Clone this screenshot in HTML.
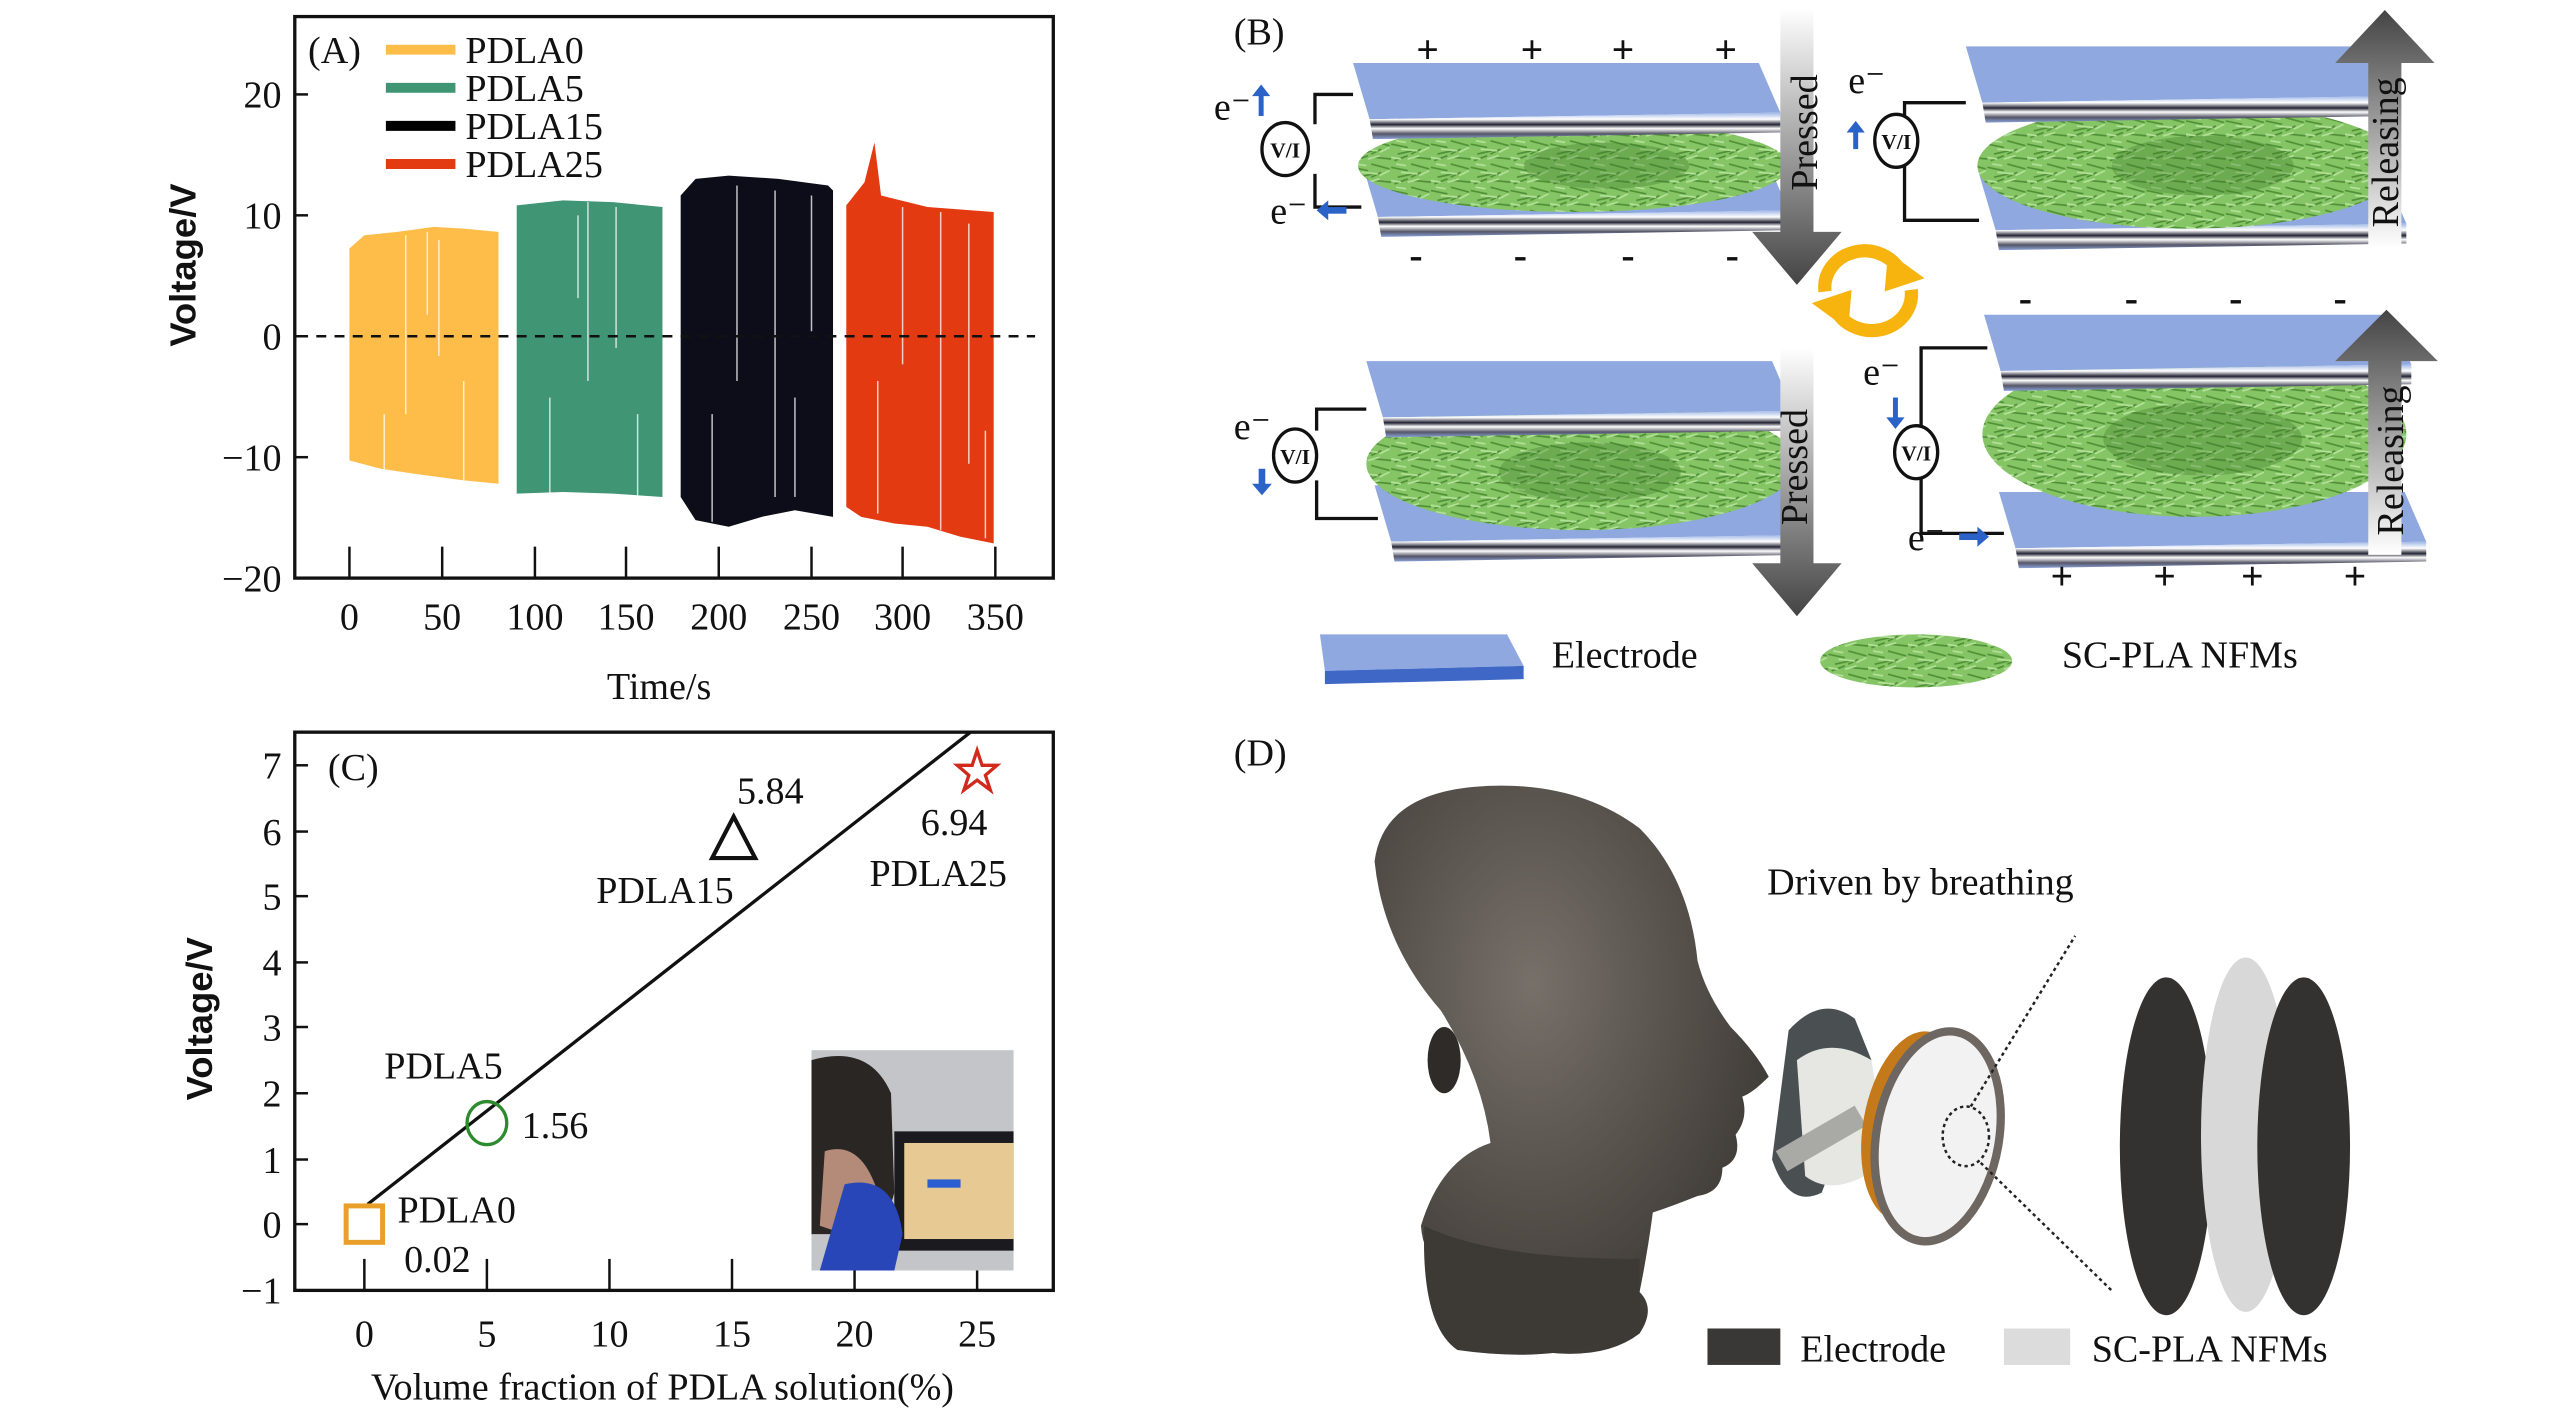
<!DOCTYPE html>
<html><head><meta charset="utf-8"><style>
html,body{margin:0;padding:0;background:#fff;width:2567px;height:1408px;overflow:hidden}
svg{display:block}
text{font-family:"Liberation Serif",serif;fill:#111}
.t{font-size:23px}
.b{font-family:"Liberation Sans",sans-serif;font-weight:bold}
</style></head><body>
<svg width="2567" height="1408" viewBox="0 0 1550 850" preserveAspectRatio="none" xmlns="http://www.w3.org/2000/svg">
<defs>
<linearGradient id="gd" x1="0" y1="0" x2="0" y2="1"><stop offset="0" stop-color="#fff"/><stop offset="1" stop-color="#444"/></linearGradient>
<linearGradient id="gu" x1="0" y1="1" x2="0" y2="0"><stop offset="0" stop-color="#fff"/><stop offset="1" stop-color="#444"/></linearGradient>
<linearGradient id="edge" x1="0" y1="0" x2="0" y2="1"><stop offset="0" stop-color="#9fb6e6"/><stop offset=".25" stop-color="#fff"/><stop offset=".45" stop-color="#223"/><stop offset=".6" stop-color="#fff"/><stop offset=".8" stop-color="#556"/><stop offset="1" stop-color="#8aa2d8"/></linearGradient>
<radialGradient id="head" cx=".4" cy=".35" r=".7"><stop offset="0" stop-color="#777069"/><stop offset="1" stop-color="#3a3632"/></radialGradient>
<pattern id="fp" width="24" height="14" patternUnits="userSpaceOnUse">
<rect width="24" height="14" fill="#86c566"/>
<path stroke="#4f8f35" stroke-width="1" fill="none" d="M0,3 l10,2 M12,1 l11,3 M4,9 l9,-2 M14,11 l10,1 M2,13 l8,-3 M18,6 l-6,3"/>
<path stroke="#b4e29a" stroke-width="1" fill="none" d="M6,6 l10,1 M17,8 l6,-3 M0,11 l6,1 M10,12 l7,-2 M3,1 l6,1"/>
</pattern>
<g id="plate"><polygon points="0,0 245,0 258,30 10,34" fill="#8fa9e0"/><polygon points="10,34 258,30 258,42 12,46" fill="url(#edge)"/></g>
</defs>

<!-- Panel A -->
<polygon points="211,150 220,142 240,140 262,137 280,138 301,140 301,292 280,290 250,286 230,283 211,278" fill="#fdbd48"/>
<polygon points="312,124 340,121 370,122 400,125 400,300 370,298 340,297 312,298" fill="#3f9574"/>
<polygon points="411,118 420,108 440,106 470,108 500,112 503,115 503,312 480,308 460,312 440,318 420,314 411,300" fill="#0d0d1a"/>
<polygon points="511,124 522,110 528,86 532,118 560,125 600,128 600,328 580,324 560,318 540,316 520,312 511,306" fill="#e33a12"/>
<g stroke="#fff" stroke-width="0.9" opacity="0.75">
<line x1="245" y1="142" x2="245" y2="250"/><line x1="258" y1="140" x2="258" y2="190"/><line x1="265" y1="145" x2="265" y2="215"/><line x1="280" y1="230" x2="280" y2="290"/><line x1="232" y1="250" x2="232" y2="285"/>
<line x1="355" y1="122" x2="355" y2="230"/><line x1="372" y1="125" x2="372" y2="210"/><line x1="332" y1="240" x2="332" y2="298"/><line x1="385" y1="250" x2="385" y2="300"/><line x1="349" y1="130" x2="349" y2="180"/>
<line x1="445" y1="112" x2="445" y2="230"/><line x1="468" y1="115" x2="468" y2="300"/><line x1="490" y1="118" x2="490" y2="200"/><line x1="430" y1="250" x2="430" y2="315"/><line x1="480" y1="240" x2="480" y2="300"/>
<line x1="545" y1="125" x2="545" y2="220"/><line x1="568" y1="128" x2="568" y2="320"/><line x1="530" y1="230" x2="530" y2="310"/><line x1="585" y1="135" x2="585" y2="280"/><line x1="595" y1="260" x2="595" y2="325"/>
</g>
<line x1="180" y1="203" x2="625" y2="203" stroke="#111" stroke-width="1.5" stroke-dasharray="6,5"/>
<rect x="178" y="10" width="458" height="339" fill="none" stroke="#111" stroke-width="2"/>
<g stroke="#111" stroke-width="1.5">
<line x1="178" y1="57" x2="186" y2="57"/><line x1="178" y1="130" x2="186" y2="130"/><line x1="178" y1="203" x2="186" y2="203"/><line x1="178" y1="276" x2="186" y2="276"/>
<line x1="211" y1="349" x2="211" y2="330"/><line x1="267" y1="349" x2="267" y2="330"/><line x1="323" y1="349" x2="323" y2="330"/><line x1="378" y1="349" x2="378" y2="330"/><line x1="434" y1="349" x2="434" y2="330"/><line x1="490" y1="349" x2="490" y2="330"/><line x1="545" y1="349" x2="545" y2="330"/><line x1="601" y1="349" x2="601" y2="330"/>
</g>
<g class="t" text-anchor="end"><text x="170" y="65">20</text><text x="170" y="138">10</text><text x="170" y="211">0</text><text x="170" y="284">−10</text><text x="170" y="357">−20</text></g>
<g class="t" text-anchor="middle"><text x="211" y="380">0</text><text x="267" y="380">50</text><text x="323" y="380">100</text><text x="378" y="380">150</text><text x="434" y="380">200</text><text x="490" y="380">250</text><text x="545" y="380">300</text><text x="601" y="380">350</text>
<text x="398" y="422">Time/s</text></g>
<text class="b" font-size="22" transform="translate(118,160) rotate(-90)" text-anchor="middle">Voltage/V</text>
<text class="t" x="186" y="38">(A)</text>
<g stroke-width="6"><line x1="233" y1="30" x2="275" y2="30" stroke="#fdbd48"/><line x1="233" y1="53" x2="275" y2="53" stroke="#3f9574"/><line x1="233" y1="76" x2="275" y2="76" stroke="#000"/><line x1="233" y1="99" x2="275" y2="99" stroke="#e33a12"/></g>
<g class="t"><text x="281" y="38">PDLA0</text><text x="281" y="61">PDLA5</text><text x="281" y="84">PDLA15</text><text x="281" y="107">PDLA25</text></g>

<!-- Panel C -->
<rect x="178" y="442" width="458" height="337" fill="none" stroke="#111" stroke-width="2"/>
<g stroke="#111" stroke-width="1.5">
<line x1="178" y1="462" x2="186" y2="462"/><line x1="178" y1="502" x2="186" y2="502"/><line x1="178" y1="541" x2="186" y2="541"/><line x1="178" y1="581" x2="186" y2="581"/><line x1="178" y1="620" x2="186" y2="620"/><line x1="178" y1="660" x2="186" y2="660"/><line x1="178" y1="700" x2="186" y2="700"/><line x1="178" y1="739" x2="186" y2="739"/>
<line x1="220" y1="779" x2="220" y2="760"/><line x1="294" y1="779" x2="294" y2="760"/><line x1="368" y1="779" x2="368" y2="760"/><line x1="442" y1="779" x2="442" y2="760"/><line x1="516" y1="779" x2="516" y2="760"/><line x1="590" y1="779" x2="590" y2="760"/>
</g>
<g class="t" text-anchor="end"><text x="170" y="470">7</text><text x="170" y="510">6</text><text x="170" y="549">5</text><text x="170" y="589">4</text><text x="170" y="628">3</text><text x="170" y="668">2</text><text x="170" y="708">1</text><text x="170" y="747">0</text><text x="170" y="787">−1</text></g>
<g class="t" text-anchor="middle"><text x="220" y="813">0</text><text x="294" y="813">5</text><text x="368" y="813">10</text><text x="442" y="813">15</text><text x="516" y="813">20</text><text x="590" y="813">25</text>
<text x="400" y="845">Volume fraction of PDLA solution(%)</text></g>
<text class="b" font-size="22" transform="translate(128,615) rotate(-90)" text-anchor="middle">Voltage/V</text>
<text class="t" x="198" y="471">(C)</text>
<line x1="222" y1="727" x2="586" y2="442" stroke="#111" stroke-width="2"/>
<rect x="209" y="728" width="22" height="22" fill="none" stroke="#e8a02a" stroke-width="3"/>
<ellipse cx="294" cy="678" rx="12" ry="13" fill="none" stroke="#2e8a2e" stroke-width="2"/>
<polygon points="430,518 456,518 443,493" fill="none" stroke="#111" stroke-width="2.5"/>
<polygon points="590,453 593,462 602,462 595,468 598,477 590,471 582,477 585,468 578,462 587,462" fill="none" stroke="#d02a1a" stroke-width="2"/>
<g class="t"><text x="445" y="485">5.84</text><text x="360" y="545">PDLA15</text><text x="556" y="504">6.94</text><text x="525" y="535">PDLA25</text><text x="232" y="651">PDLA5</text><text x="315" y="687">1.56</text><text x="240" y="738">PDLA0</text><text x="244" y="768">0.02</text></g>
<g>
<rect x="490" y="634" width="122" height="133" fill="#c3c5c8"/>
<rect x="540" y="683" width="72" height="72" fill="#1a1a1f"/>
<rect x="546" y="690" width="66" height="58" fill="#e6c993"/>
<rect x="560" y="712" width="20" height="5" fill="#2b5ed0"/>
<path d="M490,640 Q525,630 538,660 L540,720 Q535,740 520,745 L490,745 Z" fill="#2a2624"/>
<path d="M498,695 Q520,688 530,720 L510,745 L495,740 Z" fill="#b48a78"/>
<path d="M510,715 Q540,708 545,745 L540,767 L495,767 Z" fill="#2946b8"/>
</g>

<!-- Panel B -->
<text class="t" x="745" y="27">(B)</text>
<!-- lower plates first -->
<use href="#plate" x="822" y="97"/>
<use href="#plate" x="1195" y="105"/>
<use href="#plate" x="830" y="293"/>
<use href="#plate" x="1207" y="297"/>
<!-- fibers -->
<g fill="url(#fp)">
<ellipse cx="950" cy="100" rx="130" ry="28"/>
<ellipse cx="1322" cy="100" rx="128" ry="38"/>
<ellipse cx="955" cy="280" rx="130" ry="40"/>
<ellipse cx="1325" cy="262" rx="128" ry="50"/>
</g>
<g fill="#3f7a2a" opacity="0.35"><ellipse cx="970" cy="100" rx="50" ry="14"/><ellipse cx="1330" cy="100" rx="55" ry="18"/><ellipse cx="960" cy="285" rx="55" ry="18"/><ellipse cx="1330" cy="265" rx="60" ry="22"/></g>
<!-- upper plates -->
<use href="#plate" x="817" y="38"/>
<use href="#plate" x="1187" y="28"/>
<use href="#plate" x="825" y="218"/>
<use href="#plate" x="1198" y="190"/>
<!-- arrows -->
<polygon points="1075,5 1095,5 1095,140 1112,140 1085,172 1058,140 1075,140" fill="url(#gd)"/>
<polygon points="1075,210 1095,210 1095,340 1112,340 1085,372 1058,340 1075,340" fill="url(#gd)"/>
<polygon points="1430,150 1450,150 1450,38 1470,38 1440,6 1410,38 1430,38" fill="url(#gu)"/>
<polygon points="1430,335 1450,335 1450,218 1472,218 1441,187 1410,218 1430,218" fill="url(#gu)"/>
<g class="t" font-size="24"><text transform="translate(1097,80) rotate(-90)" text-anchor="middle">Pressed</text>
<text transform="translate(1091,282) rotate(-90)" text-anchor="middle">Pressed</text>
<text transform="translate(1448,92) rotate(-90)" text-anchor="middle">Releasing</text>
<text transform="translate(1451,278) rotate(-90)" text-anchor="middle">Releasing</text></g>
<!-- cycle -->
<g fill="none" stroke="#f7b30e" stroke-width="8">
<path d="M1102,176 A24,22 0 0 1 1148,165"/><path d="M1154,175 A24,22 0 0 1 1108,186"/>
</g>
<polygon points="1140,152 1162,168 1138,176" fill="#f7b30e"/>
<polygon points="1116,199 1094,183 1118,175" fill="#f7b30e"/>
<!-- signs -->
<g font-family="Liberation Sans" font-weight="bold" font-size="24" text-anchor="middle" fill="#111">
<text x="862" y="38">+</text><text x="925" y="38">+</text><text x="980" y="38">+</text><text x="1042" y="38">+</text>
<text x="855" y="162">-</text><text x="918" y="162">-</text><text x="983" y="162">-</text><text x="1046" y="162">-</text>
<text x="1223" y="188">-</text><text x="1287" y="188">-</text><text x="1350" y="188">-</text><text x="1413" y="188">-</text>
<text x="1245" y="356">+</text><text x="1307" y="356">+</text><text x="1360" y="356">+</text><text x="1422" y="356">+</text>
</g>
<!-- circuits -->
<g fill="none" stroke="#111" stroke-width="2">
<path d="M817,57 H794 V75 M794,105 V125 H822"/>
<path d="M1187,62 H1150 V70 M1150,100 V133 H1195"/>
<path d="M825,247 H795 V260 M795,290 V313 H832"/>
<path d="M1200,210 H1160 V258 M1160,288 V322 H1210"/>
</g>
<g fill="#fff" stroke="#111" stroke-width="2"><ellipse cx="776" cy="90" rx="14" ry="16"/><ellipse cx="1145" cy="85" rx="13" ry="16"/><ellipse cx="782" cy="275" rx="13" ry="16"/><ellipse cx="1157" cy="273" rx="13" ry="16"/></g>
<g font-family="Liberation Sans" font-weight="bold" font-size="13" text-anchor="middle"><text x="776" y="95">V/I</text><text x="1145" y="90">V/I</text><text x="782" y="280">V/I</text><text x="1157" y="278">V/I</text></g>
<g class="t" font-size="21"><text x="733" y="72">e⁻</text><text x="767" y="135">e⁻</text><text x="1116" y="56">e⁻</text><text x="745" y="265">e⁻</text><text x="1125" y="232">e⁻</text><text x="1152" y="332">e⁻</text></g>
<g fill="#2a62c8"><rect x="760" y="56" width="3" height="14"/><polygon points="756,58 767,58 761.5,51"/>
<rect x="801" y="125" width="12" height="4"/><polygon points="802,121 802,133 795,127"/>
<rect x="1119" y="78" width="3" height="12"/><polygon points="1115,80 1126,80 1120.5,73"/>
<rect x="760" y="283" width="4" height="11"/><polygon points="756,292 768,292 762,299"/>
<rect x="1143" y="240" width="3" height="14"/><polygon points="1139,252 1150,252 1144.5,259"/>
<rect x="1183" y="322" width="12" height="4"/><polygon points="1194,318 1194,330 1201,324"/></g>
<!-- legend B -->
<polygon points="797,383 910,383 920,402 800,405" fill="#8fa9e0"/><polygon points="800,405 920,402 920,410 800,413" fill="#3f67c6"/>
<text class="t" x="937" y="403">Electrode</text>
<ellipse cx="1157" cy="399" rx="58" ry="16" fill="url(#fp)"/>
<text class="t" x="1245" y="403">SC-PLA NFMs</text>

<!-- Panel D -->
<text class="t" x="745" y="462">(D)</text>
<path d="M895,808 L895,780 Q860,770 858,740 Q870,700 900,690 Q895,650 870,610 Q835,570 830,520 Q835,480 890,475 Q950,470 990,500 Q1020,530 1025,580 Q1030,600 1045,620 Q1060,635 1068,650 Q1058,660 1052,662 Q1056,675 1048,685 Q1052,700 1040,705 Q1040,720 1025,722 Q1010,728 998,732 Q995,755 990,780 Q1000,790 990,805 Q960,828 895,808 Z" fill="url(#head)"/>
<path d="M860,740 Q900,760 990,760 L990,800 Q950,825 880,815 Q858,800 860,740 Z" fill="#3d3935"/>
<ellipse cx="872" cy="640" rx="10" ry="20" fill="#2f2b28"/>
<path d="M1080,622 Q1100,600 1120,615 L1130,640 L1100,720 Q1080,730 1070,700 Z" fill="#4a4f52"/>
<path d="M1085,640 Q1105,625 1130,640 L1140,700 Q1110,725 1090,710 Z" fill="#e6e6e3"/>
<rect x="1072" y="680" width="55" height="14" fill="#a9a9a6" transform="rotate(-30 1100 687)"/>
<ellipse cx="1155" cy="680" rx="30" ry="58" fill="#c47a1a" transform="rotate(10 1155 680)"/>
<ellipse cx="1170" cy="686" rx="37" ry="64" fill="#f2f2f2" stroke="#6e6660" stroke-width="5" transform="rotate(10 1170 686)"/>
<ellipse cx="1187" cy="686" rx="14" ry="18" fill="none" stroke="#222" stroke-width="1.5" stroke-dasharray="2,2"/>
<g stroke="#222" stroke-width="1.5" stroke-dasharray="2,2"><line x1="1190" y1="668" x2="1253" y2="565"/><line x1="1196" y1="702" x2="1276" y2="780"/></g>
<ellipse cx="1308" cy="692" rx="28" ry="102" fill="#343131"/>
<ellipse cx="1356" cy="685" rx="27" ry="107" fill="#d8d8d8"/>
<ellipse cx="1391" cy="692" rx="28" ry="102" fill="#343131"/>
<text class="t" x="1067" y="540">Driven by breathing</text>
<rect x="1031" y="802" width="44" height="22" fill="#3a3737"/>
<text class="t" x="1087" y="822">Electrode</text>
<rect x="1210" y="802" width="40" height="22" fill="#dcdcdc"/>
<text class="t" x="1263" y="822">SC-PLA NFMs</text>
</svg>
</body></html>
